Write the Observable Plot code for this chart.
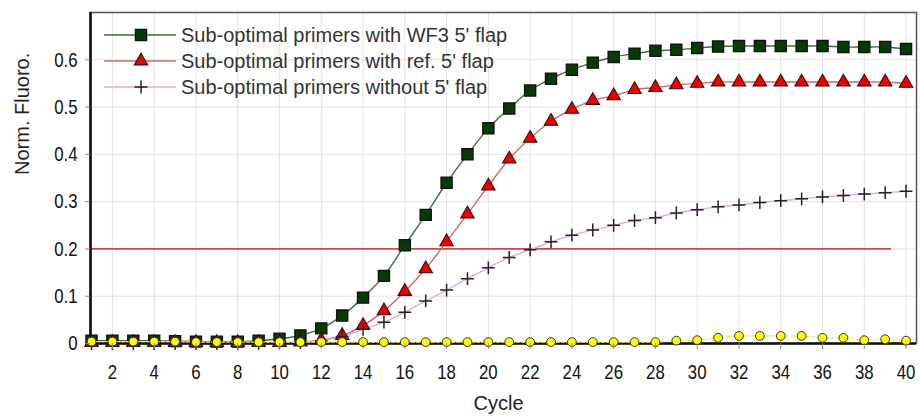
<!DOCTYPE html>
<html><head><meta charset="utf-8">
<script src="https://cdn.jsdelivr.net/npm/d3@7"></script>
<script src="https://cdn.jsdelivr.net/npm/@observablehq/plot@0.6"></script>
<style>
body{margin:0;background:#fff;}
#wrap{position:relative;width:921px;height:417px;}
#legend{position:absolute;left:104px;top:22px;font-family:"Liberation Sans",Arial,sans-serif;font-size:20px;color:#333;}
.row{display:flex;align-items:center;height:26px;}
.row svg{margin-right:5px;}
</style></head><body><div id="wrap"><div id="legend"></div></div>
<script>
// ---- data ----
const cycles = d3.range(1, 41);
const wf3Flap = [0.006,0.006,0.006,0.006,0.005,0.004,0.004,0.004,0.006,0.010,
  0.017,0.032,0.059,0.097,0.143,0.208,0.272,0.340,0.400,0.455,
  0.497,0.535,0.560,0.579,0.594,0.606,0.613,0.619,0.621,0.625,
  0.628,0.629,0.629,0.629,0.629,0.629,0.627,0.627,0.627,0.623];
const refFlap = [0.002,0.002,0.002,0.002,0.002,0.002,0.002,0.002,0.002,0.002,
  0.003,0.007,0.017,0.038,0.069,0.110,0.158,0.215,0.274,0.333,
  0.390,0.434,0.470,0.495,0.514,0.524,0.537,0.541,0.547,0.550,
  0.553,0.553,0.553,0.553,0.553,0.553,0.553,0.553,0.553,0.550];
const noFlap = [0.000,0.000,0.000,0.000,0.000,0.000,0.000,0.000,0.000,0.001,
  0.002,0.006,0.015,0.030,0.045,0.066,0.090,0.113,0.137,0.160,
  0.182,0.198,0.215,0.229,0.240,0.250,0.260,0.266,0.276,0.283,
  0.289,0.293,0.298,0.302,0.306,0.310,0.313,0.316,0.319,0.322];
const negControl = [0.004,0.004,0.004,0.004,0.004,0.003,0.003,0.003,0.003,0.003,
  0.003,0.003,0.003,0.003,0.003,0.003,0.003,0.003,0.003,0.003,
  0.003,0.003,0.003,0.003,0.003,0.003,0.003,0.003,0.006,0.007,
  0.012,0.016,0.016,0.016,0.016,0.012,0.012,0.007,0.009,0.006];
const seriesNames = ["Sub-optimal primers with WF3 5' flap","Sub-optimal primers with ref. 5' flap","Sub-optimal primers without 5' flap"];
const threshold = 0.2;
const thresholdEnd = 39.3;
const xTicks = d3.range(2, 41, 2);
const yTicks = [0, 0.1, 0.2, 0.3, 0.4, 0.5, 0.6];
const xDomain = [0.95, 40.5];
const yDomain = [0, 0.7];

// ---- styles ----
const styles = [
  {line: "#3f6b3f", symbol: "square", fill: "#063a06", stroke: "#111", r: 6.3, sw: 1.3},
  {line: "#c86a6a", symbol: "triangle", fill: "#ee0000", stroke: "#3a0a0a", r: 5.0, sw: 1.1},
  {line: "#e4a8e4", symbol: "plus", fill: "none", stroke: "#222", r: 4.2, sw: 1.5}
];
const seriesValues = [wf3Flap, refFlap, noFlap];
const tables = seriesValues.map(vals => cycles.map((c, i) => ({cycle: c, value: vals[i]})));
const negTable = cycles.map((c, i) => ({cycle: c, value: negControl[i]}));

const lbl = {fontFamily: "'Liberation Sans', Arial, sans-serif", fontSize: 20, fill: "#222"};
const tickFont = {fontFamily: "'Liberation Sans', Arial, sans-serif", fontSize: 21, fill: "#111"};

const marks = [
  Plot.gridX(xTicks, {stroke: "#e3e3e3", strokeOpacity: 1}),
  Plot.gridY(yTicks.slice(1), {stroke: "#e3e3e3", strokeOpacity: 1}),
  Plot.frame({stroke: "#555", strokeWidth: 1.5}),
  Plot.ruleY([threshold], {x1: xDomain[0], x2: thresholdEnd, stroke: "#c0504d", strokeWidth: 1.8})
];
tables.forEach((t, k) => {
  const s = styles[k];
  marks.push(Plot.line(t, {x: "cycle", y: "value", stroke: s.line, strokeWidth: 1.4, curve: "catmull-rom"}));
});
tables.forEach((t, k) => {
  const s = styles[k];
  marks.push(Plot.dot(t, {x: "cycle", y: "value", symbol: () => s.symbol, r: s.r, fill: s.fill, stroke: s.stroke, strokeWidth: s.sw}));
});
marks.push(
  Plot.ruleY([0], {stroke: "#111", strokeWidth: 2.6}),
  Plot.ruleX([xDomain[0]], {stroke: "#111", strokeWidth: 2.6}),
  Plot.line(negTable, {x: "cycle", y: "value", stroke: "#f2f24a", strokeWidth: 1.2, strokeDasharray: "3,2", curve: "catmull-rom"}),
  Plot.dot(negTable, {x: "cycle", y: "value", r: 4.4, fill: "#ffff00", stroke: "#333", strokeWidth: 1}),
  Plot.axisX(xTicks, {tickSize: 6, tickPadding: 15, stroke: "#888", label: null, ...tickFont}),
  Plot.axisY(yTicks, {tickSize: 5, tickPadding: 8, stroke: "#888", label: null, tickFormat: d => d === 0 ? "0" : d.toFixed(1), ...tickFont}),
  Plot.text(["Cycle"], {frameAnchor: "bottom", dy: 66, dx: -5, ...lbl}),
  Plot.text(["Norm. Fluoro."], {frameAnchor: "left", dx: -68, dy: -3, rotate: -90, ...lbl})
);

const chart = Plot.plot({
  width: 921, height: 417,
  marginLeft: 90, marginRight: 5, marginTop: 12, marginBottom: 74,
  x: {domain: xDomain},
  y: {domain: yDomain},
  style: {background: "#fff", overflow: "visible"},
  marks
});
const wrap = document.getElementById("wrap");
wrap.insertBefore(chart, wrap.firstChild);

// condensed look for tick labels (as in the original software's font)
d3.select(chart).selectAll('g[aria-label="x-axis tick label"] text, g[aria-label="y-axis tick label"] text')
  .each(function () {
    const len = this.getComputedTextLength();
    if (len > 0) {
      this.setAttribute("textLength", (len * 0.8).toFixed(2));
      this.setAttribute("lengthAdjust", "spacingAndGlyphs");
    }
  });

// ---- legend ----
const legend = d3.select("#legend");
seriesNames.forEach((name, k) => {
  const s = styles[k];
  const row = legend.append("div").attr("class", "row");
  const svg = row.append("svg").attr("width", 72).attr("height", 24);
  svg.append("line").attr("x1", 0).attr("x2", 72).attr("y1", 12).attr("y2", 12).attr("stroke", s.line).attr("stroke-width", 1.6);
  const sym = {square: d3.symbolSquare, triangle: d3.symbolTriangle, plus: d3.symbolPlus}[s.symbol];
  svg.append("path").attr("transform", "translate(37,12)")
    .attr("d", d3.symbol(sym, Math.PI * s.r * s.r)())
    .attr("fill", s.fill).attr("stroke", s.stroke).attr("stroke-width", s.sw);
  row.append("span").text(name);
});
</script>
</body></html>
